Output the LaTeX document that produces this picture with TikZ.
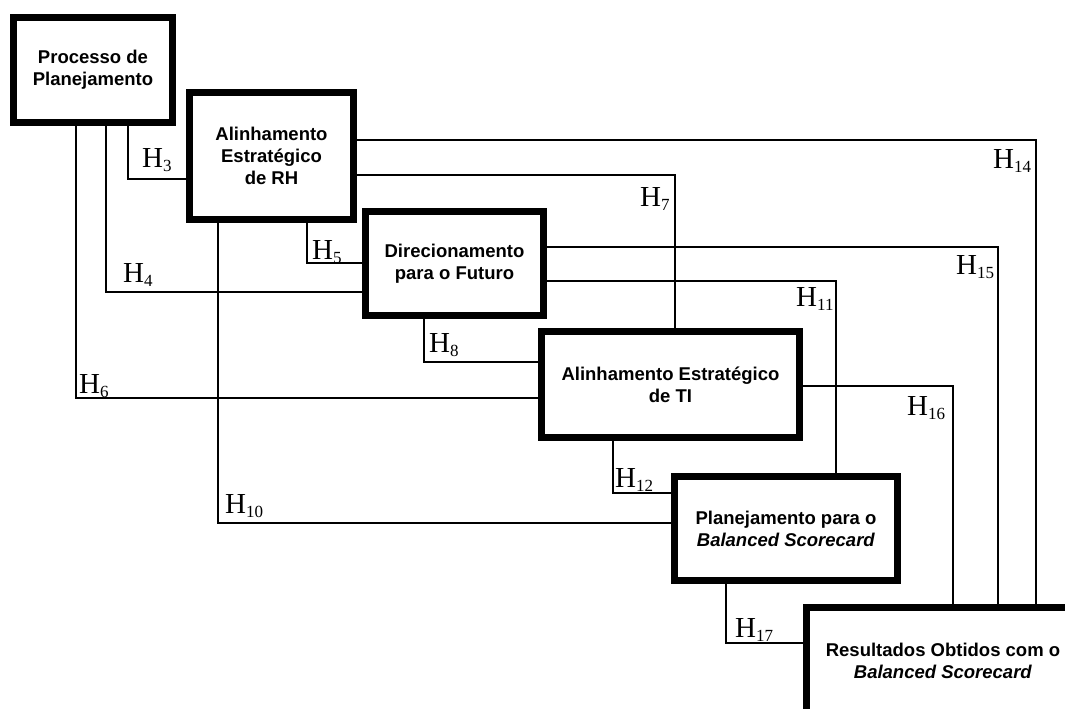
\documentclass[tikz,border=0pt]{standalone}
\usepackage{fontspec}
\newfontfamily\boxfont{Liberation Sans}
\newfontfamily\labfont{Liberation Serif}
\newcommand\hlab[1]{{\labfont\fontsize{29}{30}\selectfont H}\raisebox{-4.5pt}{\labfont\fontsize{17}{17}\selectfont #1}}
\tikzset{
  bx/.style={draw, line width=7pt, fill=white, inner sep=0pt, align=center,
    font=\boxfont\bfseries\fontsize{18.5}{22}\selectfont},
  cn/.style={line width=1.3pt},
  lb/.style={anchor=base west, inner sep=0pt}
}
\begin{document}
\begin{tikzpicture}[x=1pt,y=-1pt]
\useasboundingbox (0,0) rectangle (1065,709);
\clip (0,0) rectangle (1065,709);
\fill[white] (0,0) rectangle (1065,709);
% boxes
\node[bx, minimum width=159pt, minimum height=105pt] (b1) at (93,70) {Processo de\\Planejamento};
\node[bx, minimum width=164pt, minimum height=127pt] (b2) at (271.5,156) {Alinhamento\\Estratégico\\de RH};
\node[bx, minimum width=178pt, minimum height=104pt] (b3) at (454.5,263.5) {Direcionamento\\para o Futuro};
\node[bx, minimum width=258pt, minimum height=106pt] (b4) at (670.5,384.5) {Alinhamento Estratégico\\de TI};
\node[bx, minimum width=223pt, minimum height=104pt] (b5) at (786,528.5) {Planejamento para o\\\textit{Balanced Scorecard}};
\node[bx, minimum width=273pt, minimum height=107pt] (b6) at (943,661) {Resultados Obtidos com o\\\textit{Balanced Scorecard}};
% connectors
\draw[cn] (b1.south -| 128,0) |- (b2.west |- 0,179);
\draw[cn] (b1.south -| 106,0) |- (b3.west |- 0,292);
\draw[cn] (b1.south -| 76,0) |- (b4.west |- 0,398);
\draw[cn] (b2.south -| 307,0) |- (b3.west |- 0,263);
\draw[cn] (b2.south -| 218,0) |- (b5.west |- 0,523);
\draw[cn] (b2.east |- 0,175) -| (b4.north -| 675,0);
\draw[cn] (b2.east |- 0,140) -| (b6.north -| 1036,0);
\draw[cn] (b3.east |- 0,247) -| (b6.north -| 998,0);
\draw[cn] (b3.east |- 0,281) -| (b5.north -| 836,0);
\draw[cn] (b3.south -| 424,0) |- (b4.west |- 0,362);
\draw[cn] (b4.south -| 613,0) |- (b5.west |- 0,493);
\draw[cn] (b4.east |- 0,386) -| (b6.north -| 953,0);
\draw[cn] (b5.south -| 726,0) |- (b6.west |- 0,643);
% labels
\node[lb] (h3) at (142,167) {\hlab{3}};
\node[lb] (h4) at (123,282) {\hlab{4}};
\node[lb] (h5) at (312,259) {\hlab{5}};
\node[lb] (h6) at (79,393) {\hlab{6}};
\node[lb] (h7) at (640,206) {\hlab{7}};
\node[lb] (h8) at (429,352) {\hlab{8}};
\node[lb] (h10) at (225,513) {\hlab{10}};
\node[lb] (h11) at (796,306) {\hlab{11}};
\node[lb] (h12) at (615,487) {\hlab{12}};
\node[lb] (h14) at (993,168) {\hlab{14}};
\node[lb] (h15) at (956,274) {\hlab{15}};
\node[lb] (h16) at (907,415) {\hlab{16}};
\node[lb] (h17) at (735,637) {\hlab{17}};
\end{tikzpicture}
\end{document}
